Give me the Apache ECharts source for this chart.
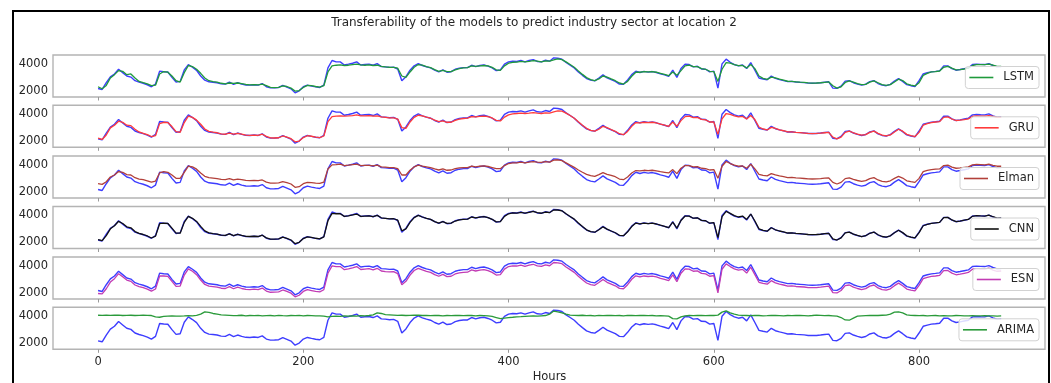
<!DOCTYPE html>
<html>
<head>
<meta charset="utf-8">
<script src="https://cdn.jsdelivr.net/npm/echarts@6/dist/echarts.min.js"></script>
<style>
  html, body { margin: 0; padding: 0; background: #ffffff; }
  #chart { width: 1051px; height: 383px; }
</style>
</head>
<body>
<div id="chart"></div>
<script>
// Hourly load, sampled every 4 hours (hour = index * STEP_HOURS)
const STEP_HOURS = 4;

const actual = [
  2170, 2100, 2600, 3040, 3250, 3600, 3350, 3100, 3020, 2750,
  2640, 2560, 2450, 2300, 2500, 3460, 3420, 3400, 3000, 2650,
  2700, 3550, 3950, 3750, 3520, 3100, 2790, 2670, 2640, 2600,
  2520, 2500, 2650, 2480, 2600, 2500, 2430, 2420, 2450, 2420,
  2540, 2300, 2220, 2230, 2250, 2400, 2280, 2150, 1850, 2000,
  2300, 2420, 2350, 2290, 2250, 2420, 3700, 4250, 4150, 4150,
  3920, 3980, 4050, 4150, 3920, 3960, 3980, 3900, 4020, 3800,
  3780, 3740, 3760, 3620, 2750, 3050, 3530, 3860, 4020, 3880,
  3780, 3700, 3530, 3410, 3560, 3380, 3420, 3600, 3680, 3720,
  3720, 3900, 3800, 3880, 3920, 3830, 3700, 3500, 3550, 3980,
  4150, 4200, 4180, 4250, 4150, 4250, 4320, 4180, 4150, 4270,
  4200, 4450, 4420, 4350, 4100, 3900, 3700, 3400, 3150, 2910,
  2790, 2740, 2950, 3180, 2960, 2830, 2700, 2500, 2480, 2800,
  3200, 3450, 3360, 3440, 3390, 3430, 3360, 3260, 3180, 3080,
  3530, 3000, 3650, 3980, 3950, 3780, 3820, 3620, 3600, 3410,
  3460, 2200, 4000, 4350, 4120, 3950, 3850, 3920, 3650, 4100,
  3530, 2950, 2880, 2820, 3100, 2920, 2830, 2760, 2680, 2700,
  2650, 2630, 2610, 2570, 2560, 2570, 2600, 2640, 2670, 2200,
  2180, 2350, 2720, 2760, 2600, 2500, 2420, 2490, 2680, 2760,
  2540, 2420, 2380, 2480, 2720, 2910, 2700, 2460, 2380, 2320,
  2750, 3250, 3340, 3410, 3440, 3480, 3850, 3850, 3650, 3530,
  3580, 3640, 3700, 3950, 3980, 3960, 3950, 4020, 3880, 3780,
  3800
];

const lstmPred = [
  2300, 2150, 2400, 2950, 3200, 3500, 3450, 3200, 3250, 2950,
  2700, 2600, 2520, 2380, 2420, 3250, 3430, 3380, 3100, 2750,
  2650, 3350, 3880, 3800, 3600, 3300, 2950, 2750, 2680, 2640,
  2560, 2520, 2580, 2550, 2580, 2530, 2470, 2440, 2460, 2440,
  2500, 2380, 2260, 2240, 2260, 2370, 2320, 2200, 1980, 2020,
  2250, 2400, 2380, 2320, 2280, 2380, 3400, 3850, 3900, 3920,
  3880, 3900, 3950, 3980, 3920, 3900, 3920, 3880, 3900, 3820,
  3780, 3750, 3740, 3680, 3100, 3000, 3400, 3750, 3950, 3900,
  3800, 3720, 3580, 3450, 3520, 3420, 3420, 3560, 3650, 3700,
  3720, 3850, 3820, 3850, 3880, 3850, 3740, 3560, 3520, 3850,
  4050, 4120, 4130, 4180, 4150, 4180, 4250, 4200, 4150, 4220,
  4200, 4300, 4380, 4320, 4150, 3950, 3750, 3480, 3220, 2980,
  2830, 2760, 2880, 3100, 3020, 2880, 2750, 2580, 2500, 2700,
  3080, 3380, 3380, 3420, 3400, 3420, 3380, 3300, 3220, 3120,
  3400, 3150, 3500, 3850, 3900, 3800, 3800, 3650, 3600, 3450,
  3430, 2700, 3600, 4100, 4050, 3950, 3870, 3880, 3700, 3950,
  3650, 3100, 2920, 2850, 3020, 2960, 2860, 2790, 2710, 2700,
  2670, 2640, 2620, 2590, 2570, 2580, 2600, 2630, 2660, 2380,
  2200, 2300, 2620, 2740, 2650, 2540, 2460, 2480, 2640, 2740,
  2600, 2460, 2400, 2460, 2660, 2860, 2760, 2520, 2420, 2360,
  2600, 3150, 3300, 3400, 3430, 3470, 3750, 3820, 3680, 3560,
  3580, 3620, 3680, 3880, 3950, 3950, 3940, 3980, 3900, 3820,
  3820
];

const gruPred = [
  2220, 2120, 2450, 2980, 3180, 3480, 3400, 3180, 3150, 2880,
  2680, 2580, 2480, 2340, 2400, 3300, 3400, 3380, 3080, 2700,
  2650, 3380, 3850, 3760, 3560, 3250, 2900, 2720, 2660, 2620,
  2540, 2510, 2600, 2520, 2580, 2520, 2450, 2430, 2450, 2430,
  2510, 2350, 2240, 2230, 2250, 2380, 2300, 2180, 1950, 2000,
  2260, 2400, 2360, 2300, 2260, 2380, 3450, 3820, 3850, 3880,
  3850, 3870, 3900, 3950, 3880, 3870, 3900, 3860, 3880, 3800,
  3760, 3720, 3720, 3640, 3000, 2950, 3420, 3760, 3920, 3870,
  3780, 3700, 3560, 3440, 3500, 3400, 3400, 3540, 3630, 3680,
  3700, 3820, 3800, 3830, 3850, 3820, 3720, 3540, 3500, 3780,
  3950, 4030, 4050, 4080, 4050, 4080, 4120, 4080, 4050, 4100,
  4080, 4180, 4250, 4230, 4080, 3900, 3700, 3430, 3180, 2950,
  2800, 2740, 2880, 3100, 3000, 2860, 2730, 2550, 2480, 2720,
  3100, 3380, 3350, 3400, 3370, 3400, 3350, 3270, 3190, 3100,
  3420, 3100, 3520, 3820, 3850, 3750, 3760, 3620, 3580, 3420,
  3420, 2500, 3650, 4050, 3980, 3880, 3800, 3830, 3650, 3900,
  3600, 3050, 2900, 2830, 3020, 2940, 2840, 2770, 2690, 2690,
  2650, 2630, 2600, 2570, 2560, 2570, 2590, 2620, 2650, 2300,
  2170, 2300, 2650, 2740, 2620, 2520, 2440, 2480, 2650, 2740,
  2580, 2440, 2390, 2460, 2680, 2880, 2740, 2500, 2400, 2340,
  2650, 3180, 3300, 3380, 3420, 3450, 3760, 3800, 3640, 3530,
  3560, 3600, 3650, 3830, 3870, 3860, 3850, 3900, 3830, 3760,
  3760
];

const elmanPred = [
  2600, 2550, 2750, 3100, 3250, 3500, 3450, 3280, 3250, 3050,
  2950, 2900, 2820, 2720, 2800, 3400, 3500, 3450, 3250, 3000,
  3000, 3450, 3900, 3850, 3680, 3400, 3150, 3050, 3020, 2980,
  2930, 2900, 2980, 2880, 2950, 2900, 2850, 2830, 2850, 2830,
  2880, 2720, 2650, 2650, 2660, 2750, 2680, 2580, 2330, 2380,
  2600, 2700, 2680, 2640, 2620, 2720, 3700, 4000, 4020, 4050,
  3950, 3980, 4020, 4050, 3950, 3960, 3970, 3920, 3980, 3850,
  3830, 3800, 3800, 3720, 3250, 3250, 3600, 3850, 3980, 3900,
  3850, 3800, 3700, 3620, 3700, 3600, 3620, 3720, 3780, 3800,
  3800, 3900, 3850, 3900, 3930, 3880, 3800, 3720, 3720, 3950,
  4100, 4150, 4150, 4200, 4150, 4200, 4250, 4200, 4180, 4250,
  4200, 4350, 4380, 4320, 4150, 3980, 3820, 3620, 3450, 3300,
  3200, 3150, 3280, 3420, 3300, 3220, 3120, 2950, 2900, 3100,
  3400, 3580, 3550, 3600, 3580, 3600, 3560, 3500, 3450, 3400,
  3650, 3350, 3750, 3950, 3950, 3850, 3870, 3750, 3720, 3620,
  3650, 3000, 3900, 4250, 4100, 3980, 3900, 3920, 3750, 4050,
  3700, 3300, 3220, 3180, 3350, 3250, 3180, 3120, 3060, 3070,
  3030, 3010, 2990, 2960, 2950, 2960, 2980, 3010, 3030, 2700,
  2580, 2700, 2980, 3030, 2920, 2840, 2780, 2830, 2980, 3050,
  2880, 2780, 2740, 2820, 3000, 3150, 3020, 2820, 2750, 2700,
  3000, 3500, 3600, 3650, 3680, 3700, 3950, 3980, 3830, 3750,
  3780, 3820, 3850, 4000, 4030, 4020, 4000, 4050, 3970, 3900,
  3900
];

const cnnPred = [
  2200, 2120, 2500, 3000, 3230, 3560, 3400, 3150, 3080, 2800,
  2660, 2580, 2470, 2320, 2460, 3380, 3430, 3400, 3050, 2680,
  2680, 3480, 3920, 3780, 3550, 3180, 2850, 2700, 2650, 2610,
  2530, 2510, 2630, 2500, 2590, 2510, 2440, 2430, 2450, 2430,
  2530, 2330, 2230, 2230, 2250, 2390, 2290, 2170, 1900, 2000,
  2280, 2410, 2360, 2300, 2260, 2400, 3600, 4150, 4120, 4120,
  3930, 3970, 4030, 4100, 3930, 3950, 3970, 3900, 4000, 3820,
  3780, 3740, 3750, 3640, 2850, 3000, 3480, 3830, 4000, 3880,
  3780, 3700, 3540, 3420, 3540, 3400, 3420, 3580, 3670, 3710,
  3720, 3880, 3810, 3870, 3910, 3840, 3710, 3520, 3540, 3930,
  4120, 4180, 4170, 4230, 4160, 4230, 4300, 4200, 4160, 4250,
  4210, 4400, 4400, 4340, 4120, 3920, 3720, 3430, 3170, 2930,
  2800, 2750, 2930, 3150, 2980, 2840, 2710, 2520, 2490, 2780,
  3170, 3430, 3370, 3430, 3390, 3420, 3360, 3270, 3190, 3090,
  3500, 3050, 3620, 3950, 3940, 3790, 3820, 3630, 3600, 3420,
  3460, 2350, 3900, 4300, 4150, 3980, 3880, 3950, 3700, 4100,
  3580, 3000, 2890, 2830, 3080, 2930, 2840, 2770, 2690, 2700,
  2660, 2640, 2610, 2580, 2570, 2580, 2600, 2640, 2670, 2250,
  2170, 2330, 2700, 2760, 2610, 2510, 2430, 2490, 2670, 2760,
  2560, 2430, 2390, 2480, 2710, 2900, 2720, 2480, 2390, 2330,
  2720, 3230, 3330, 3400, 3440, 3480, 3830, 3850, 3660, 3540,
  3580, 3640, 3700, 3930, 3980, 3960, 3950, 4020, 3900, 3800,
  3820
];

const esnPred = [
  1950, 1920, 2300, 2800, 3050, 3420, 3200, 2950, 2850, 2580,
  2460, 2380, 2270, 2120, 2280, 3250, 3250, 3220, 2850, 2480,
  2500, 3320, 3780, 3600, 3350, 2950, 2620, 2500, 2460, 2420,
  2340, 2320, 2460, 2300, 2420, 2320, 2250, 2240, 2270, 2240,
  2350, 2130, 2040, 2050, 2070, 2210, 2100, 1970, 1700, 1820,
  2100, 2230, 2170, 2110, 2070, 2230, 3450, 4000, 3950, 3950,
  3720, 3780, 3850, 3950, 3730, 3760, 3790, 3700, 3820, 3620,
  3580, 3550, 3570, 3430, 2600, 2850, 3320, 3660, 3820, 3700,
  3600, 3520, 3350, 3230, 3370, 3200, 3230, 3400, 3480, 3520,
  3530, 3700, 3620, 3680, 3720, 3650, 3520, 3320, 3350, 3760,
  3950, 4000, 3990, 4050, 3960, 4050, 4120, 4000, 3960, 4070,
  4010, 4250, 4230, 4160, 3920, 3720, 3520, 3230, 2970, 2730,
  2610, 2560, 2760, 2990, 2780, 2650, 2520, 2330, 2300, 2600,
  3000, 3260, 3180, 3250, 3210, 3240, 3180, 3080, 3000, 2900,
  3330, 2820, 3450, 3780, 3760, 3600, 3630, 3440, 3410, 3230,
  3270, 2000, 3750, 4150, 3950, 3780, 3680, 3740, 3470, 3900,
  3350, 2780, 2700, 2640, 2900, 2740, 2650, 2580, 2500, 2520,
  2470, 2450, 2430, 2390, 2380, 2390, 2420, 2460, 2490, 2020,
  1990, 2170, 2530, 2580, 2420, 2320, 2240, 2310, 2500, 2580,
  2360, 2240, 2200, 2300, 2530, 2720, 2520, 2280, 2200, 2140,
  2550, 3050, 3150, 3220, 3250, 3290, 3650, 3660, 3460, 3340,
  3390, 3450, 3510, 3750, 3790, 3770, 3760, 3830, 3690, 3600,
  3620
];

const arimaPred = [
  4070, 4060, 4080, 4060, 4070, 4080, 4050, 4060, 4070, 4050,
  4060, 4080, 4060, 4050, 3950, 3920, 3980, 4000, 4020, 4000,
  4010, 4020, 4040, 4030, 4060, 4150, 4320, 4280, 4200, 4150,
  4100, 4080, 4060, 4040, 4050, 4070, 4030, 4050, 4040, 4060,
  4020, 4040, 4050, 4030, 4060, 4040, 4030, 4050, 4040, 4060,
  4030, 4050, 4040, 4030, 4020, 4000, 3950, 3980, 4000, 3980,
  4020, 4000, 4030, 4010, 4040, 4020, 4050, 4100, 4250, 4200,
  4120, 4100, 4080, 4060, 4070, 4050, 4060, 4080, 4070, 4050,
  4060, 4040, 4060, 4050, 4030, 4050, 4040, 4060, 4050, 4040,
  4060, 4050, 4030, 4050, 4040, 4020, 3980, 3900, 3820, 3860,
  3900, 3920, 3950, 3960, 3980, 4000, 4020, 4000, 4030, 4050,
  4150, 4380, 4320, 4250, 4150, 4080, 4060, 4050, 4070, 4040,
  4050, 4030, 4060, 4040, 4050, 4060, 4040, 4050, 4030, 4060,
  4050, 4040, 4060, 4050, 4040, 4050, 4030, 4040, 4020, 4000,
  3820, 3800, 3950, 4030, 4050, 4040, 4060, 4050, 4040, 4060,
  4050, 4080, 4300, 4400, 4250, 4150, 4080, 4060, 4050, 4040,
  4060, 4050, 4030, 4040, 4060, 4050, 4040, 4030, 4050, 4040,
  4060, 4050, 4040, 4030, 4050, 4080, 4060, 4040, 4050, 4030,
  4000, 3900, 3720, 3700, 3850, 4000, 4030, 4040, 4050, 4060,
  4050, 4070, 4080, 4150, 4300, 4320, 4250, 4100, 4060, 4050,
  4040, 4050, 4030, 4040, 4050, 4030, 4040, 4020, 4030, 4050,
  4040, 4030, 4020, 4040, 4030, 4020, 4040, 4030, 4020, 4010,
  4030
];

const modelNames = ['LSTM', 'GRU', 'Elman', 'CNN', 'ESN', 'ARIMA'];
const modelSeries = [lstmPred, gruPred, elmanPred, cnnPred, esnPred, arimaPred];
const modelColors = ['#1f9a3c', '#ff3b3b', '#b2403a', '#111111', '#c23cb4', '#2a9a3a'];
const xTicks = [0, 200, 400, 600, 800];
const yTicks = [2000, 4000];

const ACTUAL_COLOR = '#3d3dff';
const TEXT_COLOR = '#262626';
const FONT = 'DejaVu Sans';

const panelTops = [55, 105.3, 156, 206.5, 257, 307.3];
const panelHeight = 42;
const plotLeft = 53;
const plotRight = 6;

function toPoints(values) {
  return values.map((v, i) => [i * STEP_HOURS, v]);
}

const plainNumber = (v) => String(v);

const grids = [], xAxes = [], yAxes = [], series = [], legends = [];

panelTops.forEach((top, k) => {
  const last = k === panelTops.length - 1;
  grids.push({
    left: plotLeft, right: plotRight, top: top, height: panelHeight,
    show: true, borderColor: '#b4b4b4', borderWidth: 1.4, backgroundColor: 'transparent'
  });
  xAxes.push({
    type: 'value', gridIndex: k, min: -43.9, max: 922.7,
    axisLine: { show: false },
    splitLine: { show: false },
    axisTick: { show: true, length: 3.5, customValues: xTicks, lineStyle: { color: '#9a9a9a', width: 1 } },
    axisLabel: {
      show: last, customValues: xTicks, margin: 7, formatter: plainNumber,
      fontFamily: FONT, fontSize: 11.5, color: TEXT_COLOR
    }
  });
  yAxes.push({
    type: 'value', gridIndex: k, min: 1540, max: 4660,
    axisLine: { show: false },
    splitLine: { show: false },
    axisTick: { show: false },
    axisLabel: {
      customValues: yTicks, margin: 5, formatter: plainNumber,
      fontFamily: FONT, fontSize: 11.5, color: TEXT_COLOR
    }
  });
  series.push({
    name: 'Actual', type: 'line', xAxisIndex: k, yAxisIndex: k,
    data: toPoints(actual), showSymbol: false, symbol: 'none', silent: true,
    lineStyle: { color: ACTUAL_COLOR, width: 1.4 }, itemStyle: { color: ACTUAL_COLOR }, z: 2
  });
  series.push({
    name: modelNames[k], type: 'line', xAxisIndex: k, yAxisIndex: k,
    data: toPoints(modelSeries[k]), showSymbol: false, symbol: 'none', silent: true,
    lineStyle: { color: modelColors[k], width: 1.3 }, itemStyle: { color: modelColors[k] }, z: 3
  });
  legends.push({
    data: [modelNames[k]], right: 12, top: top + 11.5,
    orient: 'horizontal', icon: 'rect', itemWidth: 24, itemHeight: 1.6,
    padding: [5, 5, 5, 4], backgroundColor: 'rgba(255,255,255,0.82)',
    borderColor: '#d2d2d2', borderWidth: 1, borderRadius: 3,
    selectedMode: false,
    textStyle: { fontFamily: FONT, fontSize: 11.5, color: TEXT_COLOR, padding: [0, 0, 0, 5] }
  });
});

const chart = echarts.init(document.getElementById('chart'), null, { renderer: 'canvas' });
chart.setOption({
  animation: false,
  backgroundColor: '#ffffff',
  grid: grids,
  xAxis: xAxes,
  yAxis: yAxes,
  series: series,
  legend: legends,
  graphic: [
    {
      type: 'rect', silent: true, z: 10,
      shape: { x: 13, y: 11, width: 1036, height: 390 },
      style: { fill: 'none', stroke: '#000000', lineWidth: 2 }
    },
    {
      type: 'text', silent: true, x: 534, y: 22.7,
      style: {
        text: 'Transferability of the models to predict industry sector at location 2',
        font: '12px "DejaVu Sans"', fill: TEXT_COLOR, align: 'center', verticalAlign: 'middle'
      }
    },
    {
      type: 'text', silent: true, x: 549.5, y: 377,
      style: {
        text: 'Hours', font: '11.5px "DejaVu Sans"', fill: TEXT_COLOR,
        align: 'center', verticalAlign: 'middle'
      }
    }
  ]
});
</script>
</body>
</html>
